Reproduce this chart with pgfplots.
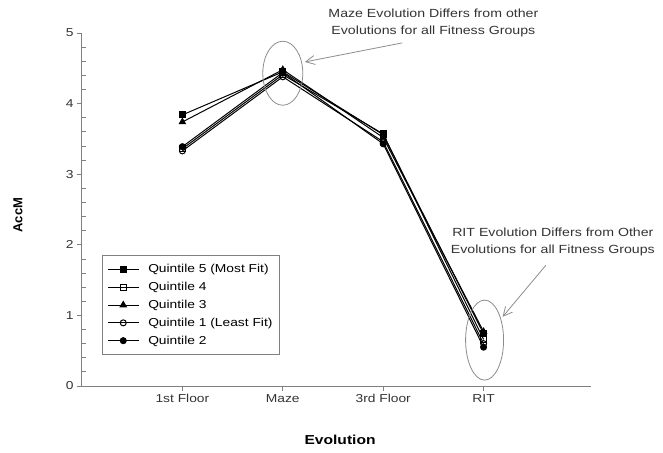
\documentclass[border=0pt]{standalone}
\usepackage{pgfplots}
\pgfplotsset{compat=1.18}
\usepackage{fontspec}
\setmainfont{Liberation Sans}[FakeStretch=1.2]
\newfontfamily\uprightsans{Liberation Sans}
\usetikzlibrary{arrows.meta}

\definecolor{axisgray}{gray}{0.5}
\definecolor{textgray}{gray}{0.2}
\definecolor{notegray}{gray}{0.55}

\begin{document}
\begin{tikzpicture}[x=1pt,y=1pt]
\useasboundingbox (0,0) rectangle (663,452);
\begin{axis}[
  at={(82pt,66pt)}, anchor=origin,
  scale only axis,
  width=509pt, height=353pt,
  xmin=0, xmax=5.07,
  ymin=0, ymax=5,
  clip=false,
  axis x line=bottom, axis y line=left,
  axis line style={axisgray, line width=1pt, -},
  xtick={1,2,3,4},
  xticklabels={1st Floor, Maze, 3rd Floor, RIT},
  ytick={0,1,2,3,4,5},
  minor y tick num=4,
  tick align=outside,
  major tick length=5pt,
  minor tick length=4pt,
  tick style={axisgray, line width=0.8pt},
  minor y tick style={xshift=4pt},
  tick label style={font=\fontsize{11.5}{13}\selectfont, text=textgray},
  /pgf/number format/assume math mode=true,
  xlabel={\textbf{Evolution}},
  ylabel={\uprightsans\bfseries AccM},
  xlabel style={font=\fontsize{13}{15}\selectfont, at={(axis description cs:0.507,-0.153)}, anchor=center},
  ylabel style={font=\fontsize{13}{15}\selectfont, at={(axis description cs:-0.126,0.484)}, anchor=center},
  legend style={at={(axis description cs:0.039,0.371)}, anchor=north west,
    draw=axisgray, line width=0.8pt, font=\fontsize{11.5}{13}\selectfont,
    inner xsep=5pt, inner ysep=8pt, row sep=6pt,
    nodes={inner xsep=2pt, inner ysep=1pt}},
  legend cell align=left,
  legend image code/.code={
    \draw[mark repeat=2,mark phase=2] plot coordinates {(0pt,0pt)(15.5pt,0pt)(31pt,0pt)};
    \path (38pt,0pt);},
  every axis plot/.append style={black, line width=1pt},
]
% Quintile 5 (Most Fit)
\addplot[mark=square*, mark size=3pt, mark options={fill=black}] coordinates {(1,3.84) (2,4.45) (3,3.56) (4,0.74)};
\addlegendentry{Quintile 5 (Most Fit)}
% Quintile 4
\addplot[mark=square, mark size=3pt, mark options={fill=white, solid}] coordinates {(1,3.36) (2,4.41) (3,3.57) (4,0.66)};
\addlegendentry{Quintile 4}
% Quintile 3
\addplot[mark=triangle*, mark size=3.5pt, mark options={fill=black}] coordinates {(1,3.74) (2,4.48) (3,3.52) (4,0.77)};
\addlegendentry{Quintile 3}
% Quintile 1 (Least Fit)
\addplot[mark=o, mark size=3pt, mark options={fill=white}] coordinates {(1,3.33) (2,4.38) (3,3.46) (4,0.60)};
\addlegendentry{Quintile 1 (Least Fit)}
% Quintile 2
\addplot[mark=*, mark size=3pt, mark options={fill=black}] coordinates {(1,3.39) (2,4.44) (3,3.43) (4,0.55)};
\addlegendentry{Quintile 2}

% callout around Maze
\draw[notegray, line width=0.8pt] (axis cs:2.0,4.43) ellipse [x radius=20pt, y radius=32pt];
\draw[notegray, line width=0.8pt, -{Straight Barb[open, length=9pt, width=9pt]}]
  (axis cs:3.19,4.86) -- (axis cs:2.22,4.59);
\node[align=center, text=textgray, font=\fontsize{11.8}{17}\selectfont]
  at (axis cs:3.50,5.14) {Maze Evolution Differs from other\\Evolutions for all Fitness Groups};

% callout around RIT
\draw[notegray, line width=0.8pt] (axis cs:4.01,0.65) ellipse [x radius=19pt, y radius=40pt];
\draw[notegray, line width=0.8pt, -{Straight Barb[open, length=9pt, width=9pt]}]
  (axis cs:4.62,1.71) -- (axis cs:4.19,0.98);
\node[align=center, text=textgray, font=\fontsize{11.8}{17}\selectfont]
  at (axis cs:4.69,2.04) {RIT Evolution Differs from Other\\Evolutions for all Fitness Groups};
\end{axis}
\end{tikzpicture}
\end{document}
